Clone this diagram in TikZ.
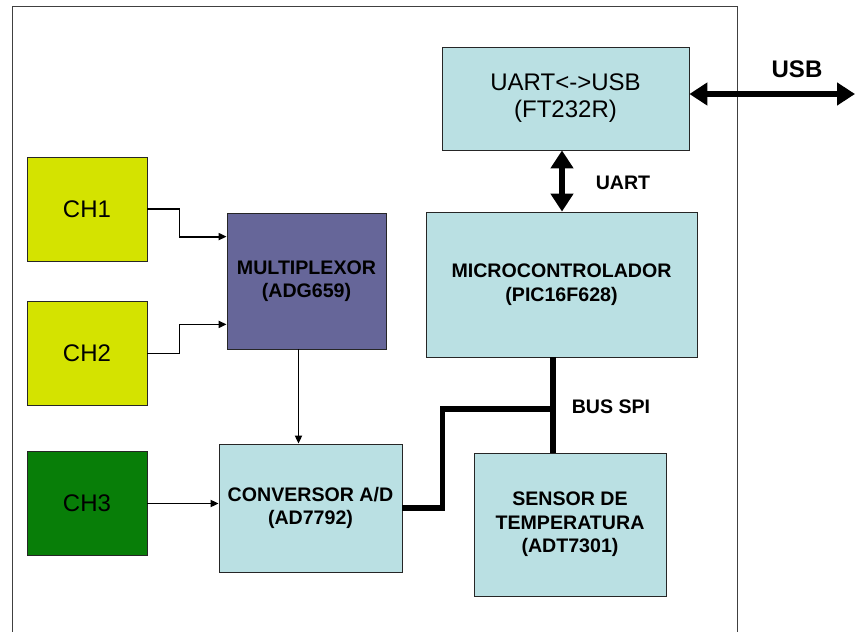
\documentclass[tikz,border=0pt]{standalone}
\usepackage{fontspec}
\setmainfont{Liberation Sans}
\usepackage{xcolor}
\usetikzlibrary{arrows.meta,positioning,calc}
\definecolor{boxblue}{RGB}{186,224,227}
\definecolor{chyellow}{RGB}{212,227,0}
\definecolor{chgreen}{RGB}{8,126,8}
\definecolor{muxpurple}{RGB}{102,102,153}
\newcommand{\bigtxt}{\fontsize{24}{27}\selectfont}
\newcommand{\boldtxt}{\fontsize{19.6}{23.5}\selectfont\bfseries}

\begin{document}
\begin{tikzpicture}[
  x=1pt,y=-1pt,
  box/.style={draw=black!85,line width=0.8pt,fill=boxblue,align=center,inner sep=0pt},
  chbox/.style={box,fill=chyellow,minimum width=120pt,minimum height=104pt,font=\bigtxt},
  arr/.style={-{Triangle[length=8pt,width=7pt]},line width=1.8pt},
  bigarr/.style={{Triangle[length=18pt,width=22pt]}-{Triangle[length=18pt,width=22pt]},line width=5.5pt},
  bus/.style={line width=5.5pt},
  lbl/.style={font=\boldtxt}]
\useasboundingbox (0,0) rectangle (855,632);
\clip (0,0) rectangle (855,632);
\draw[black!75,line width=1pt] (12,6) rectangle (737,660);
% boxes
\node[box,minimum width=247pt,minimum height=103pt,font=\bigtxt] (conv) at (565.5,98.5) {UART<->USB\\(FT232R)};
\node[box,minimum width=271pt,minimum height=145pt,font=\boldtxt] (mcu) at (561.5,284.5) {MICROCONTROLADOR\\(PIC16F628)};
\node[chbox] (ch1) at (87,209) {CH1};
\node[chbox] (ch2) at (87,353.5) {CH2};
\node[chbox,fill=chgreen] (ch3) at (87,503.5) {CH3};
\node[box,fill=muxpurple,minimum width=159pt,minimum height=136pt,font=\boldtxt] (mux) at (306.5,281) {MULTIPLEXOR\\(ADG659)};
\node[box,minimum width=183pt,minimum height=128pt,font=\boldtxt] (adc) at (310.5,508) {CONVERSOR A/D\\(AD7792)};
\node[box,minimum width=192pt,minimum height=143pt,font=\boldtxt] (sens) at (570,524.5) {SENSOR DE\\TEMPERATURA\\(ADT7301)};
% labels
\node[lbl,font=\fontsize{24}{28}\selectfont\bfseries] (usblbl) at (797,69) {USB};
\node[lbl] (uartlbl) at (623,183) {UART};
\node[lbl] (spilbl) at (611,407) {BUS SPI};
% connectors
\coordinate (usbend) at (855,94);
\coordinate (jn) at (553,409);
\draw[bigarr] (conv.east |- usbend) -- (usbend);
\draw[bigarr] (mcu.north -| 562,0) -- (conv.south -| 562,0);
\draw[arr] (ch1.east) -- ++(32,0) |- ($(mux.north west)+(0,24)$);
\draw[arr] (ch2.east) -- ++(32,0) |- ($(mux.south west)+(0,-25)$);
\draw[arr] ([xshift=-8pt]mux.south) -- ([xshift=-8pt]mux.south |- adc.north);
\draw[arr] (ch3.east) -- (ch3.east -| adc.west);
\draw[bus] (adc.east) -- ++(40,0) |- (jn);
\draw[bus] (mcu.south -| jn) -- (sens.north -| jn);
\end{tikzpicture}
\end{document}
